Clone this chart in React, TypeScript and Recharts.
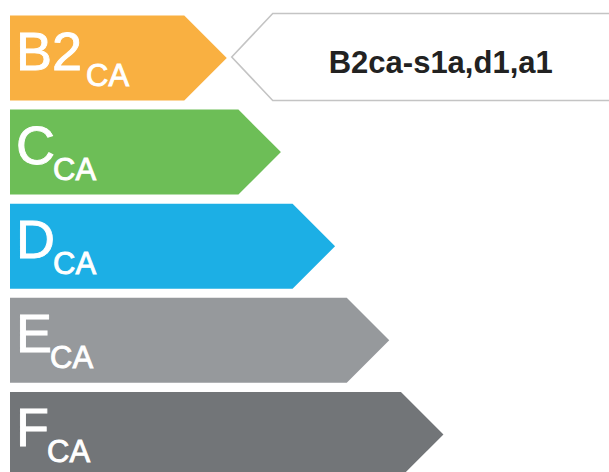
import React from "react";
import { BarChart, Bar, XAxis, YAxis, Cell } from "recharts";

const CLASSES = ["B2", "C", "D", "E", "F"];
const LEVELS = [4, 5, 6, 7, 8];
const COLORS = ["#F9B041", "#6DBE57", "#1CAFE5", "#96999C", "#727578"];
const SUBSCRIPT = "CA";
const RATED_CLASS = "B2";
const RATING_TEXT = "B2ca-s1a,d1,a1";

const data = CLASSES.map((name, i) => ({ name, value: LEVELS[i] }));

const FONT = "'Liberation Sans', Arial, Helvetica, sans-serif";

const ArrowBar = (props: any) => {
  const { x, y, width, height, payload, fill } = props;
  const head = height / 2;
  const cy = y + height / 2;
  const right = x + width;
  const pts = `${x},${y} ${right - head},${y} ${right},${cy} ${right - head},${y + height} ${x},${y + height}`;

  // callout pointing at the rated class
  let callout = null;
  if (payload.name === RATED_CLASS) {
    const tipX = right + 5;
    const tipY = cy - 1;
    const half = 43.5;
    const depth = 41;
    const callPts = `${tipX},${tipY} ${tipX + depth},${tipY - half} ${tipX + 420},${tipY - half} ${tipX + 420},${tipY + half} ${tipX + depth},${tipY + half}`;
    callout = (
      <g>
        <polygon points={callPts} fill="#fff" stroke="#c4c4c4" strokeWidth={1.6} />
        <text
          x={right + 214}
          y={cy + 14.5}
          textAnchor="middle"
          fontFamily={FONT}
          fontWeight="bold"
          fontSize={31}
          fill="#222"
        >
          {RATING_TEXT}
        </text>
      </g>
    );
  }

  return (
    <g>
      <polygon points={pts} fill={fill} />
      <text
        x={x + 6}
        y={y + 54}
        fontFamily={FONT}
        fontSize={54}
        fill="#fff"
        stroke="#fff"
        strokeWidth={0.9}
      >
        {payload.name}
        <tspan fontSize={31} dx={payload.name === RATED_CLASS ? 4 : -2} dy={16}>
          {SUBSCRIPT}
        </tspan>
      </text>
      {callout}
    </g>
  );
};

export default function App() {
  return (
    <div style={{ width: 609, height: 472, overflow: "hidden", background: "#fff" }}>
      <style>{"body{margin:0}"}</style>
      <BarChart
        width={609}
        height={481}
        data={data}
        layout="vertical"
        margin={{ top: 10.5, right: 3, bottom: 0, left: 10 }}
        barCategoryGap={0}
      >
        <XAxis type="number" domain={[0, 11]} hide />
        <YAxis type="category" dataKey="name" hide />
        <Bar dataKey="value" barSize={85} shape={<ArrowBar />} isAnimationActive={false}>
          {data.map((d, i) => (
            <Cell key={d.name} fill={COLORS[i]} />
          ))}
        </Bar>
      </BarChart>
    </div>
  );
}
